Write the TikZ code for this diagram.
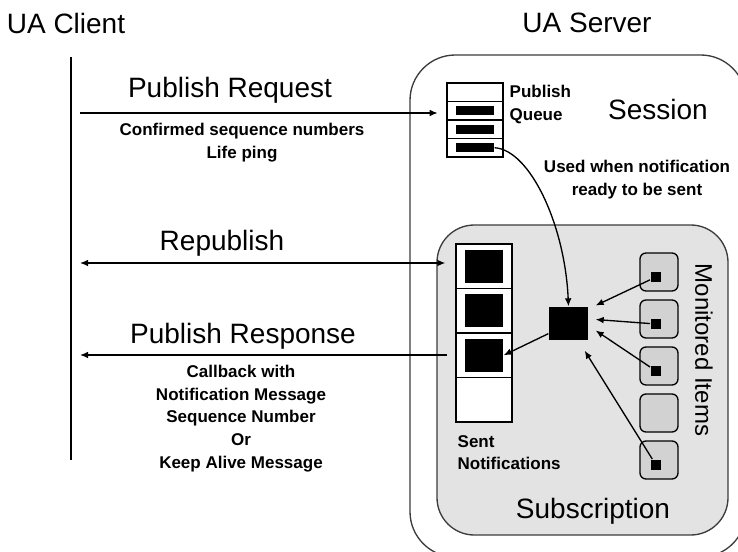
\documentclass[tikz,border=0pt]{standalone}
\usepackage{fontspec}
\setmainfont{Liberation Sans}
\usetikzlibrary{arrows.meta}

\definecolor{subgray}{RGB}{227,227,227}
\definecolor{itemgray}{RGB}{210,210,210}
\definecolor{boxline}{RGB}{60,60,60}

\tikzset{every picture/.style={line width=1pt}}
\tikzset{
  >={Latex[length=6pt,width=5pt]},
  big/.style={font=\fontsize{21}{25}\selectfont, inner sep=0pt},
  small/.style={font=\bfseries\fontsize{12.75}{17.5}\selectfont, inner sep=0pt, align=center},
  qcell/.style={draw, fill=white, minimum width=42pt, minimum height=13.875pt, inner sep=0pt, outer sep=0pt},
  qbar/.style={fill=black, minimum width=28.5pt, minimum height=6.75pt, inner sep=0pt},
  scell/.style={draw, fill=white, minimum width=42pt, minimum height=33.375pt, inner sep=0pt, outer sep=0pt},
  sblock/.style={fill=black, minimum width=28.5pt, minimum height=24.75pt, inner sep=0pt},
  item/.style={draw, fill=itemgray, rounded corners=4.5pt, minimum size=28.5pt, inner sep=0pt},
  dot/.style={fill=black, minimum size=8pt, inner sep=0pt}
}

\begin{document}
\begin{tikzpicture}[x=0.75pt,y=0.75pt,yscale=-1,xscale=1]
\useasboundingbox (0,0) rectangle (738,552);
\clip (0,0) rectangle (738,552);

%Shape: Session box
\draw [boxline, rounded corners=34pt] (410,55) rectangle (746,557);
%Shape: Subscription box
\draw [boxline, fill=subgray, rounded corners=28pt] (437,225) rectangle (728,535);

%Straight Lines: client life line
\coordinate (cTop) at (71,57);
\coordinate (cBot) at (71,460);
\draw (cTop) -- (cBot);

% Titles
\node [big] (client) at (66,23) {UA Client};
\node [big] (server) at (587,23) {UA Server};

%Shape: Publish queue
\foreach \i in {0,...,3}
  \node [qcell] (q\i) at (475,{92.25+18.5*\i}) {};
\foreach \i in {1,...,3}
  \node [qbar] (qb\i) at (q\i) {};

%Shape: Sent notifications
\foreach \i in {0,...,3}
  \node [scell] (s\i) at (484,{266.25+44.5*\i}) {};
\foreach \i in {0,...,2}
  \node [sblock] (sb\i) at (s\i) {};

% notification being built
\node [sblock, minimum width=29.25pt] (cs) at (568.5,323.5) {};

%Shape: Monitored items
\foreach \i in {1,...,5}
  \node [item] (m\i) at (659,{225+47*\i}) {};
\foreach \i in {1,2,3,5}
  \node [dot] (md\i) at ([shift={(-3,5)}]m\i.center) {};

% Messages
\coordinate (reqL) at (80,113);
\draw [->, shorten >=7pt] (reqL) -- (reqL -| q1.west);
\coordinate (repL) at (80,263);
\draw [<->, shorten >=8pt] (repL) -- (repL -| s0.west);
\coordinate (resL) at (80,355);
\draw [<-, shorten >=7pt] (resL) -- (resL -| s2.west);

% inside the server
\draw [->] (qb3.east) .. controls (530,150) and (565,225) .. (cs.north);
\draw [->] (md1) -- ([shift={(7,-18)}]cs.east);
\draw [->] (md2) -- ([shift={(7,-4)}]cs.east);
\draw [->] (md3) -- ([shift={(7,7)}]cs.east);
\draw [->] (md5) -- ([shift={(-4,10)}]cs.south east);
\draw [->] ([shift={(0,-7)}]cs.south west) -- (sb2.east);

% Text Node (base = last line)
\node [big, anchor=base] (reqT) at (230,98) {Publish Request};
\node [small, anchor=base] (reqInfo) at (242,159) {Confirmed sequence numbers\\Life ping};
\node [big, anchor=base] (repT) at (222,250) {Republish};
\node [big, anchor=base] (resT) at (243,343) {Publish Response};
\node [small, font=\bfseries\fontsize{12.75}{16.9}\selectfont, anchor=base] (resInfo) at (241,468) {Callback with\\Notification Message\\Sequence Number\\Or\\Keep Alive Message};
\node [small, align=left, anchor=base west] (qT) at (509,121) {Publish\\Queue};
\node [big, anchor=base] (sesT) at (658,120) {Session};
\node [small, anchor=base] (usedT) at (637,196) {Used when notification\\ready to be sent};
\node [small, font=\bfseries\fontsize{12.75}{16.5}\selectfont, align=left, anchor=base west] (sentT) at (457,469) {Sent\\Notifications};
\node [big, anchor=base] (subT) at (593,518) {Subscription};
\node [big, font=\fontsize{18}{22}\selectfont, rotate=-90] (monT) at (704,350) {Monitored Items};
\end{tikzpicture}
\end{document}
